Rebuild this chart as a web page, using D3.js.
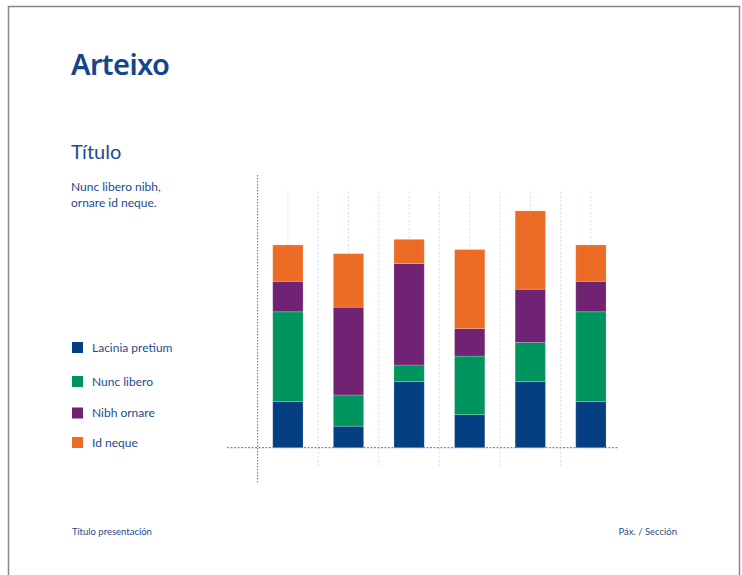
<!DOCTYPE html>
<html>
<head>
<meta charset="utf-8">
<script src="https://cdn.jsdelivr.net/npm/d3@7"></script>
<style>
  body { margin: 0; background: #fff; }
  svg { display: block; font-family: Lato, "Noto Sans", sans-serif; }
</style>
</head>
<body>
<div id="chart"></div>
<script>
// data
const categories = ["A", "B", "C", "D", "E", "F"];
const seriesNames = ["Lacinia pretium", "Nunc libero", "Nibh ornare", "Id neque"];
const laciniaPretium = [18.1, 8.4, 25.9, 12.9, 25.9, 18.1];
const nuncLibero = [35.0, 12.2, 6.4, 22.9, 15.2, 35.0];
const nibhOrnare = [11.9, 34.3, 39.6, 10.7, 20.8, 11.9];
const idNeque = [14.2, 20.9, 9.5, 30.9, 30.6, 14.2];
const yMax = 100;

const colors = ["#063f81", "#00955e", "#6f2372", "#ec6c25"];
const textBlue = "#1c4b8c";

const width = 742, height = 575;

const svg = d3.select("#chart").append("svg")
    .attr("width", width)
    .attr("height", height);

// page frame
svg.append("path")
    .attr("d", `M8.5,${height} V6.5 H739.5 V${height}`)
    .attr("fill", "none")
    .attr("stroke", "#888")
    .attr("stroke-width", 1.5);

// logo + titles
svg.append("text")
    .attr("x", 71).attr("y", 75)
    .attr("fill", "#12468c")
    .attr("font-family", "'Noto Sans', sans-serif")
    .attr("font-size", 29)
    .attr("font-weight", 600)
    .attr("letter-spacing", -0.6)
    .text("Arteixo");

svg.append("text")
    .attr("x", 71).attr("y", 159)
    .attr("fill", textBlue)
    .attr("font-size", 20)
    .text("Título");

svg.append("text")
    .attr("x", 71).attr("y", 191)
    .attr("fill", textBlue)
    .attr("font-size", 12)
    .text("Nunc libero nibh,");
svg.append("text")
    .attr("x", 71).attr("y", 207)
    .attr("fill", textBlue)
    .attr("font-size", 12)
    .text("ornare id neque.");

// scales
const x = d3.scaleBand()
    .domain(categories)
    .range([257.6, 621.2])
    .paddingInner(0.5)
    .paddingOuter(0.25);

const y = d3.scaleLinear()
    .domain([0, yMax])
    .range([447.7, 191.7]);

const table = categories.map((c, i) => ({
    cat: c,
    "Lacinia pretium": laciniaPretium[i],
    "Nunc libero": nuncLibero[i],
    "Nibh ornare": nibhOrnare[i],
    "Id neque": idNeque[i]
}));
const stack = d3.stack().keys(seriesNames)(table);

// grid lines
const grid = svg.append("g")
    .attr("stroke", "#d3deee")
    .attr("stroke-dasharray", "2,2");

grid.selectAll("line.center")
    .data(categories)
    .join("line")
    .attr("class", "center")
    .attr("x1", d => x(d) + x.bandwidth() / 2)
    .attr("x2", d => x(d) + x.bandwidth() / 2)
    .attr("y1", y(yMax))
    .attr("y2", y(0));

grid.selectAll("line.gap")
    .data(categories.slice(0, -1))
    .join("line")
    .attr("class", "gap")
    .attr("x1", d => x(d) + x.bandwidth() + (x.step() - x.bandwidth()) / 2)
    .attr("x2", d => x(d) + x.bandwidth() + (x.step() - x.bandwidth()) / 2)
    .attr("y1", y(yMax))
    .attr("y2", y(0) + 18);

// bars
svg.append("g")
    .selectAll("g")
    .data(stack)
    .join("g")
    .attr("fill", (d, i) => colors[i])
    .selectAll("rect")
    .data(d => d)
    .join("rect")
    .attr("x", d => x(d.data.cat))
    .attr("y", d => y(d[1]))
    .attr("width", x.bandwidth())
    .attr("height", d => y(d[0]) - y(d[1]))
    .attr("stroke", "rgba(255,255,255,0.25)")
    .attr("stroke-width", 0.8);

// axes (dotted)
svg.append("line")
    .attr("x1", x.range()[0]).attr("x2", x.range()[0])
    .attr("y1", 175).attr("y2", 483)
    .attr("stroke", "#4d75b3")
    .attr("stroke-dasharray", "1.5,1.5");

svg.append("line")
    .attr("x1", 227).attr("x2", 618)
    .attr("y1", y(0)).attr("y2", y(0))
    .attr("stroke", "#4d75b3")
    .attr("stroke-dasharray", "2,1.5");

// legend
const legendY = [342, 376, 407.5, 437];
const legend = svg.append("g")
    .selectAll("g")
    .data(seriesNames)
    .join("g")
    .attr("transform", (d, i) => `translate(72,${legendY[i]})`);

legend.append("rect")
    .attr("width", 11)
    .attr("height", 11)
    .attr("fill", (d, i) => colors[i]);

legend.append("text")
    .attr("x", 20)
    .attr("y", 5.5)
    .attr("dy", "0.35em")
    .attr("fill", textBlue)
    .attr("font-size", 12)
    .text(d => d);

// footer
svg.append("text")
    .attr("x", 72).attr("y", 535)
    .attr("fill", textBlue)
    .attr("font-size", 9.5)
    .text("Título presentación");

svg.append("text")
    .attr("x", 677).attr("y", 535)
    .attr("text-anchor", "end")
    .attr("fill", textBlue)
    .attr("font-size", 9.5)
    .text("Páx. / Sección");
</script>
</body>
</html>
